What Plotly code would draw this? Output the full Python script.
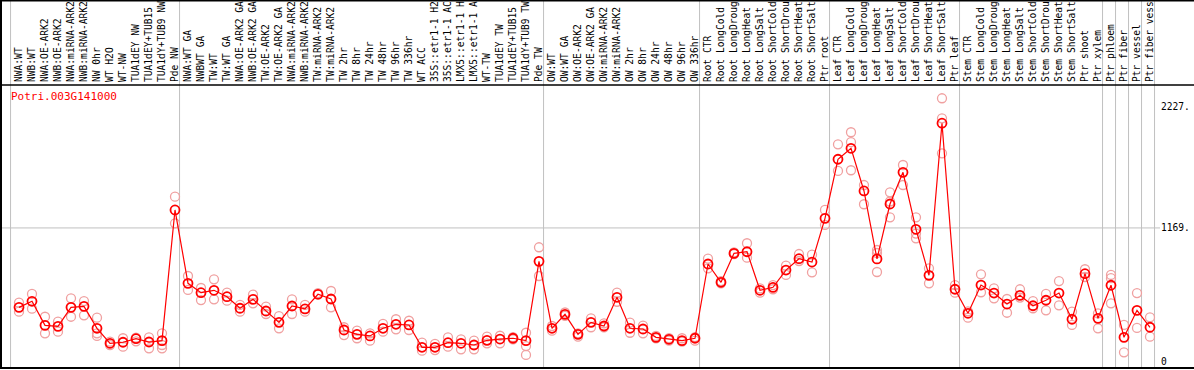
import plotly.graph_objects as go

labels = [
    "NWA:WT", "NWB:WT", "NWA:OE-ARK2", "NWB:OE-ARK2", "NWA:miRNA-ARK2", "NWB:miRNA-ARK2",
    "NW 0hr", "WT H2O", "WT-NW", "TUA1dEY NW", "TUA1dEY+TUB15 NW", "TUA1dY+TUB9 NW", "Pde NW",
    "NWA:WT GA", "NWBWT GA", "TW:WT", "TW:WT GA", "NWA:OE-ARK2 GA", "NWB:OE-ARK2 GA",
    "TW:OE-ARK2", "TW:OE-ARK2 GA", "NWA:miRNA-ARK2 GA", "NWB:miRNA-ARK2 GA", "TW:miRNA-ARK2",
    "TW:miRNA-ARK2 GA", "TW 2hr", "TW 8hr", "TW 24hr", "TW 48hr", "TW 96hr", "TW 336hr",
    "WT ACC", "35S::etr1-1 H2O", "35S::etr1-1 ACC", "LMX5::etr1-1 H2O", "LMX5::etr1-1 ACC",
    "WT-TW", "TUA1dEY TW", "TUA1dEY+TUB15 TW", "TUA1dY+TUB9 TW", "Pde TW",
    "OW:WT", "OW:WT GA", "OW:OE-ARK2", "OW:OE-ARK2 GA", "OW:miRNA-ARK2", "OW:miRNA-ARK2 GA",
    "OW 2hr", "OW 8hr", "OW 24hr", "OW 48hr", "OW 96hr", "OW 336hr",
    "Root CTR", "Root LongCold", "Root LongDrought", "Root LongHeat", "Root LongSalt",
    "Root ShortCold", "Root ShortDrought", "Root ShortHeat", "Root ShortSalt", "Ptr root",
    "Leaf CTR", "Leaf LongCold", "Leaf LongDrought", "Leaf LongHeat", "Leaf LongSalt",
    "Leaf ShortCold", "Leaf ShortDrought", "Leaf ShortHeat", "Leaf ShortSalt", "Ptr leaf",
    "Stem CTR", "Stem LongCold", "Stem LongDrought", "Stem LongHeat", "Stem LongSalt",
    "Stem ShortCold", "Stem ShortDrought", "Stem ShortHeat", "Stem ShortSalt", "Ptr shoot",
    "Ptr xylem", "Ptr phloem", "Ptr fiber", "Ptr vessel", "Ptr fiber vessel",
]

means = [
    475, 528, 318, 309, 475, 484, 292, 161, 170, 201, 172, 184, 1326,
    685, 603, 624, 568, 467, 545, 443, 344, 487, 461, 589, 548,
    277, 239, 225, 292, 327, 321, 126, 126, 166, 161, 146, 187, 198, 205, 184, 877,
    292, 414, 239, 344, 312, 563, 292, 286, 213, 196, 184, 205,
    854, 694, 947, 961, 624, 650, 801, 900, 871, 1253,
    1769, 1865, 1492, 898, 1378, 1655, 1157, 755, 2084, 633,
    423, 670, 600, 504, 580, 489, 537, 600, 371, 769,
    379, 668, 213, 449, 301,
]

replicates = [
    [516, 437], [592, 463], [393, 248], [350, 262], [554, 393], [530, 405],
    [385, 248, 225], [175, 146], [205, 131], [210, 178], [213, 117], [248, 146, 117],
    [1442, 1209],
    [749, 627], [644, 539], [720, 545], [603, 533], [496, 437], [586, 510],
    [481, 417], [399, 292], [545, 417], [496, 437], [600], [618, 475],
    [301, 233], [271, 205], [248, 184], [330, 262], [371, 283], [358, 277],
    [166, 96], [155, 102], [213, 131], [196, 108], [184, 108], [219, 161],
    [227, 161], [214, 196], [253, 137, 59], [1000, 749],
    [312, 271], [430, 400], [248, 219], [379, 301], [335, 301], [603, 524],
    [341, 253], [315, 248], [225, 205], [205, 184], [205, 175], [184, 215],
    [900, 816], [705, 685], [955, 940], [1035, 909], [640, 603], [670, 633],
    [839, 758], [941, 880], [935, 781], [1326, 1195],
    [1900, 1667], [2005, 1918, 1673], [1544, 1376], [976, 950, 784],
    [1480, 1400, 1262], [1719, 1544], [1262, 1120, 1078], [816, 685],
    [2302, 2127, 1821], [670, 603],
    [440, 385], [764, 607], [641, 554], [548, 428], [633, 560], [530, 467],
    [592, 449], [705, 493], [437, 321], [808, 740],
    [423, 292], [758, 730, 510], [321, 82], [600, 295], [388, 219],
]

group_boundaries = [-0.65, 12.35, 40.35, 52.35, 62.35, 72.35, 83.35, 84.35, 85.35, 86.35, 87.35]
ytick_vals = [0, 1169, 2227]
ytick_text = ["0", "1169.", "2227."]
gene_id = "Potri.003G141000"
LABEL_CHARS = 14  # the header strip only has room for this many characters

x_idx = list(range(len(labels)))
shown_labels = [l[:LABEL_CHARS].rstrip() for l in labels]
rep_x, rep_y = [], []
for i, reps in enumerate(replicates):
    for v in reps:
        rep_x.append(i)
        rep_y.append(v)

mono = "DejaVu Sans Mono"

fig = go.Figure()
fig.add_trace(go.Scatter(
    x=rep_x, y=rep_y, mode="markers",
    marker=dict(symbol="circle-open", size=9, color="#f0a0a0", line=dict(width=1.3, color="#f0a0a0")),
    hoverinfo="skip", showlegend=False,
))
fig.add_trace(go.Scatter(
    x=x_idx, y=means, mode="lines+markers",
    line=dict(color="#ff0000", width=1.2),
    marker=dict(symbol="circle-open", size=9, color="#ff0000", line=dict(width=1.8, color="#ff0000")),
    showlegend=False,
))

shapes = []
for b in group_boundaries:
    shapes.append(dict(type="line", xref="x", yref="paper", x0=b, x1=b, y0=0, y1=1.31,
                       line=dict(color="#c0c0c0", width=1), layer="below"))
shapes.append(dict(type="line", xref="paper", yref="y", x0=0, x1=1, y0=ytick_vals[1], y1=ytick_vals[1],
                   line=dict(color="#c0c0c0", width=1), layer="below"))
# frame lines
top_y = 368 / 283
shapes += [
    dict(type="line", xref="paper", yref="paper", x0=0, x1=0, y0=0, y1=top_y, line=dict(color="black", width=2)),
    dict(type="line", xref="paper", yref="paper", x0=-0.002, x1=1.03, y0=top_y - 0.002, y1=top_y - 0.002, line=dict(color="black", width=2)),
    dict(type="line", xref="paper", yref="paper", x0=-0.002, x1=1.03, y0=1, y1=1, line=dict(color="black", width=1.5)),
    dict(type="line", xref="paper", yref="paper", x0=-0.002, x1=1.03, y0=0, y1=0, line=dict(color="black", width=2)),
]

fig.update_layout(
    width=1194, height=370,
    margin=dict(l=1, r=34, t=85, b=2, pad=0, autoexpand=False),
    paper_bgcolor="white", plot_bgcolor="white",
    shapes=shapes,
    xaxis=dict(
        range=[-1.385, 87.77], side="top", tickmode="array", tickvals=x_idx, ticktext=shown_labels,
        tickangle=-90, tickfont=dict(family=mono, size=9.6, color="black"),
        ticks="", showgrid=False, zeroline=False, showline=False, ticklabeloverflow="allow",
        automargin=False, ticklabelstandoff=2,
    ),
    yaxis=dict(
        range=[-55, 2418], side="right", tickmode="array", tickvals=ytick_vals, ticktext=ytick_text,
        tickfont=dict(family=mono, size=9.6, color="black"), ticks="", showgrid=False,
        zeroline=False, showline=False, automargin=False,
    ),
    annotations=[dict(
        text=gene_id, xref="paper", yref="paper", x=0.007, y=(368 - 97) / 283,
        xanchor="left", yanchor="middle", showarrow=False,
        font=dict(family=mono, size=11, color="#ff0000"),
    )],
)

fig.write_html("out.html", config={"displayModeBar": False},
               post_script="document.body.style.margin='0px';")
